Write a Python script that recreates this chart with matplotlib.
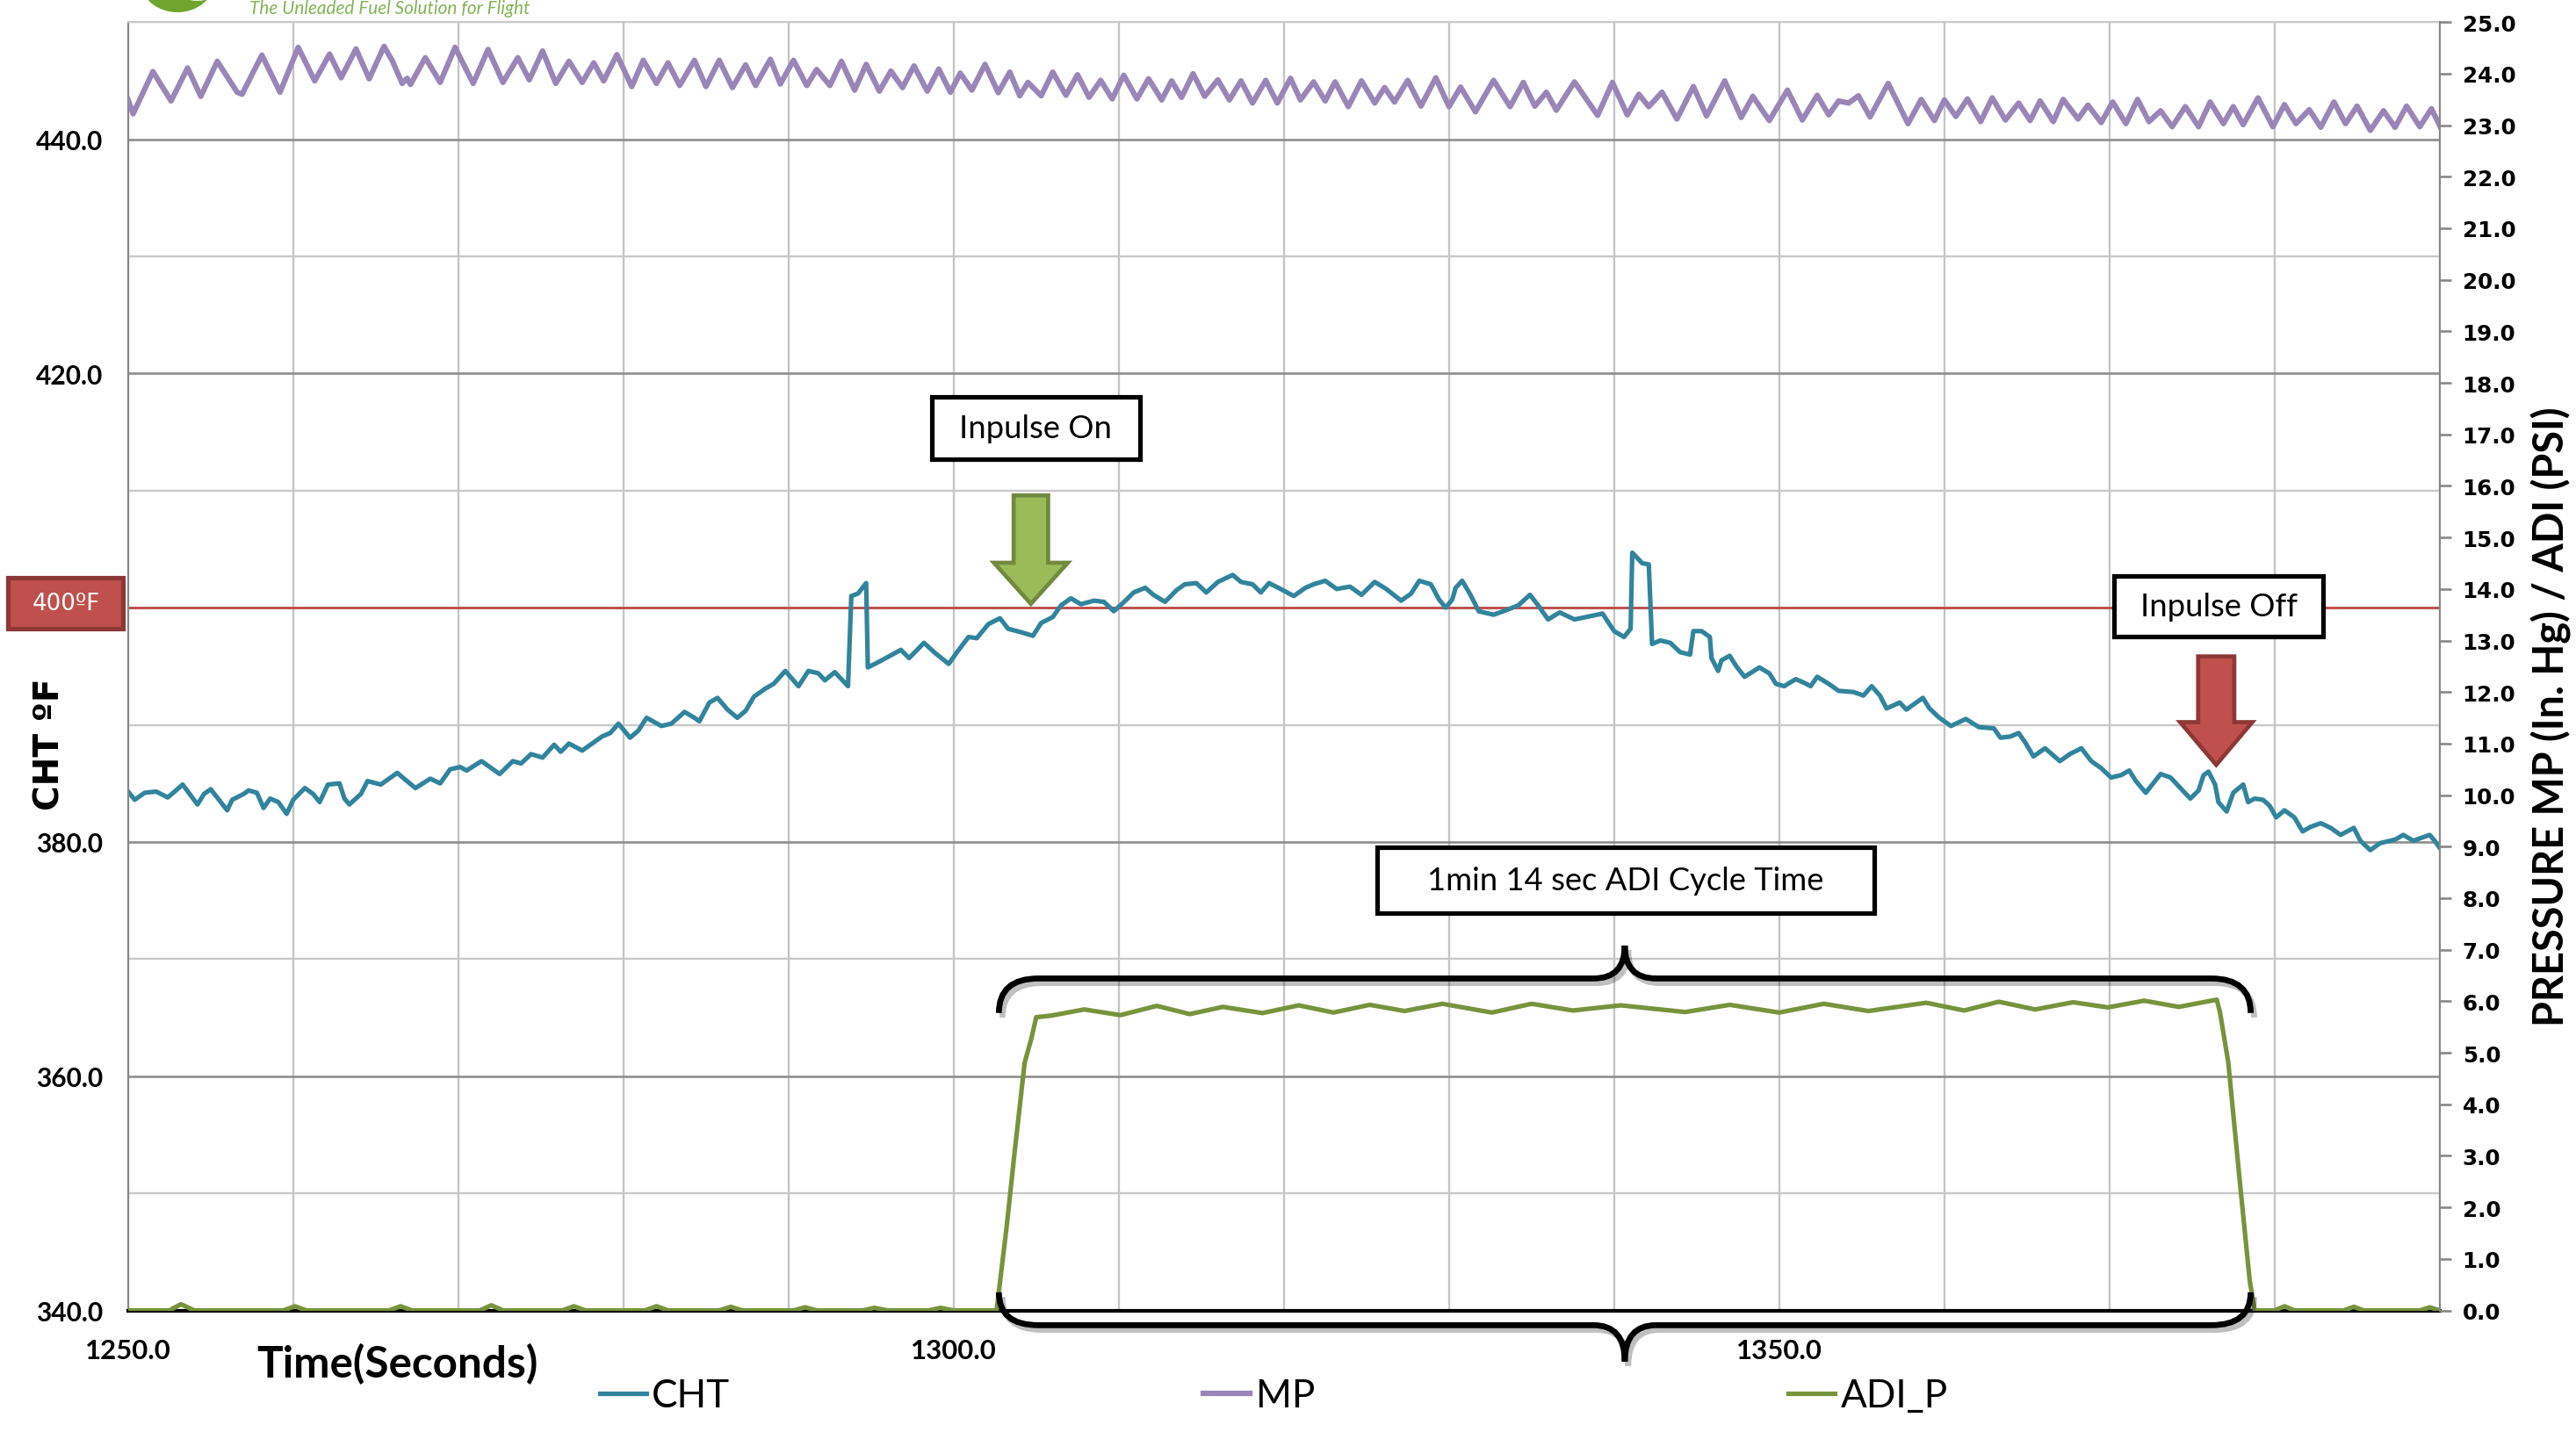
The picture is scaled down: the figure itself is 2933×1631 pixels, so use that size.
import numpy as np
import matplotlib
matplotlib.use('Agg')
import matplotlib.pyplot as plt
from matplotlib.patches import Rectangle, Polygon, PathPatch, Ellipse
from matplotlib.path import Path
import matplotlib.patheffects as pe

plt.rcParams['font.family'] = ['Lato', 'DejaVu Sans']

# ---- data ----
# CHT (deg F), left axis
cht_time = [
    1250.0, 1250.4, 1251.0, 1251.7, 1252.4, 1252.9, 1253.3, 1254.2, 1254.6, 1255.0,
    1255.5, 1256.0, 1256.3, 1257.0, 1257.3, 1257.8, 1258.2, 1258.6, 1259.1, 1259.6,
    1260.0, 1260.7, 1261.2, 1261.6, 1262.1, 1262.8, 1263.1, 1263.4, 1264.1, 1264.5,
    1265.3, 1265.6, 1266.3, 1266.8, 1267.4, 1268.3, 1268.9, 1269.5, 1270.1, 1270.5,
    1271.4, 1271.8, 1272.5, 1273.3, 1273.8, 1274.4, 1275.1, 1275.8, 1276.2, 1276.7,
    1277.5, 1278.2, 1278.7, 1279.2, 1279.7, 1280.4, 1280.9, 1281.4, 1282.3, 1282.9,
    1283.7, 1284.3, 1284.6, 1285.2, 1285.7, 1286.3, 1286.9, 1287.4, 1287.9, 1288.6,
    1289.1, 1289.8, 1290.6, 1291.2, 1291.8, 1292.2, 1292.8, 1293.6, 1293.8, 1294.2,
    1294.7, 1294.8,
    1295.5, 1296.8, 1297.3, 1298.2, 1298.9, 1299.7, 1300.2, 1300.9, 1301.4, 1302.1,
    1302.8, 1303.3, 1304.1, 1304.8, 1305.3, 1306.0, 1306.5, 1307.1, 1307.7, 1308.5,
    1309.1, 1309.7, 1310.4, 1310.9, 1311.6, 1312.1, 1312.8, 1313.5, 1314.0, 1314.7,
    1315.3, 1316.0, 1316.9, 1317.4, 1318.1, 1318.6, 1319.1, 1319.8, 1320.6, 1321.3,
    1321.8, 1322.5, 1323.2, 1324.0, 1324.7, 1325.5, 1326.2, 1327.1, 1327.7, 1328.2,
    1328.9, 1329.4, 1329.8, 1330.2, 1330.4, 1330.8, 1331.3, 1331.8, 1332.7, 1333.3,
    1334.2, 1334.9, 1335.4, 1336.0, 1336.7, 1337.6, 1338.3, 1339.3, 1340.0, 1340.6,
    1341.0, 1341.1, 1341.7, 1342.1, 1342.3, 1342.8,
    1343.4, 1344.0, 1344.6, 1344.8, 1345.3, 1345.8, 1345.9, 1346.3, 1346.5, 1347.0,
    1347.4, 1347.9, 1348.8, 1349.4, 1349.8, 1350.3, 1351.0, 1351.5, 1351.9, 1352.3,
    1353.0, 1353.6, 1354.5, 1355.1, 1355.6, 1356.1, 1356.5, 1357.3, 1357.7, 1358.2,
    1358.7, 1359.1, 1359.7, 1360.4, 1361.3, 1362.1, 1363.0, 1363.4, 1364.0, 1364.5,
    1364.9, 1365.4, 1366.1, 1367.0, 1367.6, 1368.3, 1368.9, 1369.5, 1370.1, 1370.7,
    1371.2, 1371.6, 1372.2, 1373.1, 1373.7, 1374.3, 1374.9, 1375.4, 1375.7, 1376.0,
    1376.4, 1376.6, 1377.1, 1377.5, 1378.1, 1378.4, 1378.8, 1379.3, 1379.7, 1380.1,
    1380.6, 1381.2, 1381.7, 1382.2, 1382.8, 1383.4, 1384.0, 1384.8, 1385.2, 1385.8,
    1386.4, 1387.3, 1387.8, 1388.4, 1389.4, 1389.7, 1390.1,
]
cht_temp = [
    384.3, 383.6, 384.2, 384.3, 383.8, 384.4, 384.9, 383.2, 384.1, 384.5,
    383.6, 382.7, 383.6, 384.1, 384.4, 384.2, 382.9, 383.7, 383.4, 382.4,
    383.6, 384.6, 384.1, 383.4, 384.9, 385.0, 383.7, 383.2, 384.1, 385.2,
    384.9, 385.2, 385.9, 385.3, 384.6, 385.4, 385.0, 386.2, 386.4, 386.1,
    386.9, 386.5, 385.8, 386.9, 386.7, 387.5, 387.2, 388.3, 387.7, 388.4,
    387.8, 388.5, 389.0, 389.3, 390.1, 388.9, 389.5, 390.6, 389.9, 390.1,
    391.1, 390.6, 390.3, 391.9, 392.3, 391.3, 390.6, 391.2, 392.4, 393.1,
    393.5, 394.6, 393.3, 394.6, 394.4, 393.8, 394.5, 393.3, 401.0, 401.2,
    402.1, 394.9,
    395.4, 396.4, 395.7, 397.0, 396.1, 395.2, 396.2, 397.5, 397.4, 398.6,
    399.1, 398.2, 397.9, 397.6, 398.7, 399.2, 400.2, 400.8, 400.3, 400.6,
    400.5, 399.7, 400.6, 401.3, 401.7, 401.1, 400.5, 401.5, 402.0, 402.1,
    401.3, 402.2, 402.8, 402.2, 402.0, 401.3, 402.1, 401.6, 401.0, 401.7,
    402.0, 402.3, 401.6, 401.8, 401.1, 402.2, 401.6, 400.6, 401.2, 402.3,
    402.0, 400.7, 400.0, 400.7, 401.7, 402.3, 401.1, 399.7, 399.4, 399.7,
    400.2, 401.1, 400.2, 399.0, 399.6, 399.0, 399.2, 399.5, 398.0, 397.5,
    398.2, 404.7, 403.8, 403.7, 396.9, 397.2,
    397.0, 396.2, 396.0, 398.0, 398.0, 397.5, 395.7, 394.6, 395.5, 395.9,
    395.0, 394.1, 394.9, 394.4, 393.5, 393.3, 393.9, 393.6, 393.3, 394.1,
    393.5, 392.9, 392.8, 392.5, 393.3, 392.5, 391.4, 391.9, 391.3, 391.8,
    392.3, 391.4, 390.6, 389.9, 390.5, 389.8, 389.7, 388.9, 389.0, 389.3,
    388.5, 387.3, 388.0, 386.9, 387.5, 388.0, 386.9, 386.3, 385.5, 385.7,
    386.1, 385.2, 384.2, 385.8, 385.5, 384.6, 383.7, 384.4, 385.7, 386.0,
    384.9, 383.4, 382.6, 384.2, 384.9, 383.4, 383.7, 383.6, 383.1, 382.1,
    382.7, 382.1, 380.9, 381.3, 381.6, 381.2, 380.6, 381.2, 380.1, 379.3,
    379.9, 380.2, 380.6, 380.1, 380.6, 380.1, 379.3,
]

# MP (in. Hg), right axis - peaks and troughs
mp_time = [
    1250.0, 1250.3, 1251.5, 1252.6, 1253.6, 1254.4, 1255.4, 1255.8, 1256.6, 1256.9,
    1258.1, 1259.2, 1260.3, 1261.3, 1262.2, 1262.9, 1263.8, 1264.6, 1265.5, 1266.0,
    1266.6, 1266.9, 1267.1, 1268.0, 1268.9, 1269.8, 1270.9, 1271.8, 1272.7, 1273.6,
    1274.3, 1275.1, 1275.9, 1276.7, 1277.5, 1278.2, 1278.8, 1279.6, 1280.5, 1281.2,
    1282.0, 1282.7, 1283.4, 1284.3, 1285.0, 1285.8, 1286.6, 1287.4, 1288.0, 1288.9,
    1289.5, 1290.3, 1291.1, 1291.7, 1292.5, 1293.2, 1294.0, 1294.7, 1295.5, 1296.2,
    1296.9, 1297.6, 1298.4, 1299.1, 1299.8, 1300.4, 1301.1, 1301.9, 1302.7, 1303.4,
    1304.0, 1304.5, 1305.3, 1306.0, 1306.8, 1307.5, 1308.2, 1308.9, 1309.6, 1310.3,
    1311.1, 1311.8, 1312.6, 1313.2, 1313.8, 1314.5, 1315.2, 1316.0, 1316.7, 1317.4,
    1318.1, 1318.9, 1319.6, 1320.4, 1321.0, 1321.8, 1322.5, 1323.1, 1323.9, 1324.7,
    1325.5, 1326.1, 1326.7, 1327.5, 1328.3, 1329.2, 1330.0, 1330.7, 1331.6, 1332.7,
    1333.7, 1334.5, 1335.2, 1335.9, 1336.5, 1337.6, 1339.0, 1339.9, 1340.8, 1341.5,
    1342.1, 1342.9, 1343.8, 1344.8, 1345.6, 1346.7, 1347.7, 1348.4, 1349.4, 1350.5,
    1351.4, 1352.3, 1353.0, 1353.6, 1354.2, 1354.8, 1355.5, 1356.6, 1357.8, 1358.6,
    1359.4, 1360.0, 1360.7, 1361.4, 1362.2, 1362.9, 1363.7, 1364.5, 1365.2, 1365.8,
    1366.6, 1367.2, 1368.1, 1368.7, 1369.5, 1370.2, 1371.0, 1371.7, 1372.4, 1373.1,
    1373.8, 1374.6, 1375.4, 1376.1, 1376.9, 1377.5, 1378.1, 1379.0, 1379.9, 1380.6,
    1381.3, 1382.1, 1382.8, 1383.6, 1384.3, 1385.0, 1385.8, 1386.6, 1387.3, 1388.0,
    1388.8, 1389.5, 1390.1,
]
mp_inhg = [
    23.49, 23.22, 24.04, 23.47, 24.11, 23.56, 24.24, 24.04, 23.64, 23.60,
    24.36, 23.64, 24.51, 23.86, 24.38, 23.92, 24.48, 23.90, 24.53, 24.25,
    23.81, 23.91, 23.79, 24.31, 23.83, 24.51, 23.81, 24.47, 23.83, 24.31,
    23.88, 24.44, 23.81, 24.24, 23.83, 24.21, 23.86, 24.37, 23.75, 24.26,
    23.81, 24.21, 23.77, 24.26, 23.75, 24.26, 23.73, 24.17, 23.77, 24.28,
    23.80, 24.26, 23.77, 24.08, 23.77, 24.24, 23.68, 24.18, 23.66, 24.05,
    23.73, 24.15, 23.66, 24.09, 23.64, 24.01, 23.68, 24.18, 23.63, 24.03,
    23.57, 23.83, 23.57, 24.03, 23.58, 23.98, 23.54, 23.87, 23.51, 23.97,
    23.51, 23.90, 23.49, 23.86, 23.54, 24.00, 23.56, 23.88, 23.49, 23.86,
    23.43, 23.87, 23.43, 23.91, 23.49, 23.84, 23.47, 23.84, 23.36, 23.86,
    23.43, 23.73, 23.45, 23.87, 23.37, 23.92, 23.36, 23.74, 23.26, 23.87,
    23.36, 23.83, 23.37, 23.64, 23.29, 23.84, 23.19, 23.83, 23.20, 23.60,
    23.36, 23.64, 23.12, 23.75, 23.18, 23.86, 23.15, 23.56, 23.09, 23.68,
    23.10, 23.58, 23.20, 23.47, 23.43, 23.57, 23.16, 23.81, 23.03, 23.50,
    23.09, 23.49, 23.17, 23.51, 23.07, 23.53, 23.10, 23.43, 23.09, 23.47,
    23.07, 23.50, 23.12, 23.39, 23.05, 23.45, 23.03, 23.50, 23.07, 23.28,
    22.97, 23.36, 22.97, 23.45, 23.03, 23.36, 23.01, 23.53, 22.97, 23.40,
    23.03, 23.30, 22.96, 23.45, 23.03, 23.37, 22.90, 23.28, 22.96, 23.37,
    22.97, 23.32, 22.93,
]

# ADI pressure (PSI), right axis
adi_time = [
    1250.0, 1252.5, 1253.2, 1254.0, 1259.4, 1260.1, 1260.8, 1265.8, 1266.5, 1267.2,
    1271.3, 1272.0, 1272.7, 1276.3, 1277.0, 1277.7, 1281.3, 1282.0, 1282.7, 1285.8,
    1286.5, 1287.2, 1290.3, 1291.0, 1291.7, 1294.5, 1295.2, 1296.0, 1298.5, 1299.2,
    1300.0, 1302.6, 1303.2, 1303.7, 1304.3, 1304.7, 1305.0, 1305.9, 1307.9, 1310.1,
    1312.3, 1314.3, 1316.3, 1318.7, 1320.9, 1323.0, 1325.2, 1327.3, 1329.6, 1332.6,
    1335.0, 1337.5, 1340.4, 1344.3, 1347.0, 1350.0, 1352.7, 1355.4, 1358.9, 1361.2,
    1363.3, 1365.5, 1367.8, 1369.9, 1372.1, 1374.2, 1376.5, 1376.7, 1377.2, 1377.9,
    1378.5, 1378.8, 1380.0, 1380.6, 1381.2, 1384.2, 1384.8, 1385.4, 1388.8, 1389.4,
    1390.0,
]
adi_psi = [
    0.0, 0.0, 0.12, 0.0, 0.0, 0.08, 0.0, 0.0, 0.08, 0.0,
    0.0, 0.10, 0.0, 0.0, 0.08, 0.0, 0.0, 0.08, 0.0, 0.0,
    0.07, 0.0, 0.0, 0.06, 0.0, 0.0, 0.05, 0.0, 0.0, 0.05,
    0.0, 0.0, 1.6, 3.1, 4.81, 5.27, 5.69, 5.72, 5.84, 5.73,
    5.91, 5.75, 5.89, 5.77, 5.92, 5.78, 5.93, 5.81, 5.95, 5.78,
    5.95, 5.82, 5.92, 5.79, 5.93, 5.78, 5.95, 5.81, 5.97, 5.82,
    5.99, 5.84, 5.98, 5.88, 6.01, 5.89, 6.03, 5.78, 4.81, 2.49,
    0.57, 0.0, 0.0, 0.08, 0.0, 0.0, 0.07, 0.0, 0.0, 0.06,
    0.0,
]

series_labels = ['CHT', 'MP', 'ADI_P']
left_ticks = [340, 360, 380, 400, 420, 440]
right_ticks = list(range(0, 26))
x_ticks = [1250, 1300, 1350]
limit_temp = 400

# ---- layout helpers (positions given on a 1568 x 872 grid) ----
W, H = 1568.0, 872.0


def fx(x):
    return x / W


def fy(y):
    return 1 - y / H


fig = plt.figure(figsize=(2933 / 187, 1632 / 187), dpi=187)
ax = fig.add_axes([fx(78), fy(798), fx(1485) - fx(78), fy(14) - fy(798)])
ax2 = ax.twinx()

ax.set_xlim(1250, 1390)
ax.set_ylim(340, 450)
ax2.set_ylim(0, 25)

# grid; the 400 label sits under the red 400ºF tag, so it is left blank
ax.set_axisbelow(True)
ax.set_xticks(x_ticks, labels=['%.1f' % v for v in x_ticks], fontweight='bold', fontsize=12)
ax.set_xticks(np.arange(1260, 1391, 10), minor=True)
ax.set_yticks(left_ticks, labels=['' if v == limit_temp else '%.1f' % v for v in left_ticks],
              fontweight='bold', fontsize=11.5)
ax.set_yticks(np.arange(350, 451, 20), minor=True)
ax.grid(axis='x', which='both', color='#C4C4C4', lw=0.9)
ax.grid(axis='y', which='major', color='#8C8C8C', lw=1.0)
ax.grid(axis='y', which='minor', color='#C8C8C8', lw=0.9)
ax.tick_params(axis='x', which='both', length=0, pad=12)
ax.tick_params(axis='y', which='both', length=0, pad=11)

ax2.set_yticks(right_ticks, labels=['%.1f' % v for v in right_ticks],
               fontfamily='DejaVu Sans', fontweight='bold', fontsize=9.5)
ax2.tick_params(axis='y', length=5, width=1, color='#868686', pad=5)

for s in ['top', 'left', 'bottom']:
    ax2.spines[s].set_visible(False)
ax.spines['right'].set_visible(False)
ax2.spines['right'].set_color('#868686')
ax.spines['left'].set_color('#868686')
ax.spines['top'].set_color('#C8C8C8')
ax.spines['bottom'].set_color('black')
ax.spines['bottom'].set_linewidth(1.6)

# series
ax.axhline(limit_temp, color='#C0504D', lw=1.1, zorder=1.8)
l_cht, = ax.plot(cht_time, cht_temp, color='#31849B', lw=2.0, zorder=2, solid_joinstyle='round')
l_mp, = ax2.plot(mp_time, mp_inhg, color='#9986B6', lw=2.4, solid_joinstyle='round')
l_adi, = ax2.plot(adi_time, adi_psi, color='#77933C', lw=2.0, solid_joinstyle='round')

fig.legend([l_cht, l_mp, l_adi], series_labels, loc='center left',
           bbox_to_anchor=(fx(365), fy(850)), ncol=3, frameon=False, fontsize=17,
           handlelength=1.2, handletextpad=0.15, columnspacing=12.2,
           borderpad=0, borderaxespad=0)

# axis titles
fig.text(fx(242), fy(830), 'Time(Seconds)', ha='center', va='center',
         fontsize=19, fontweight='bold')
fig.text(fx(30), fy(453), 'CHT ºF', ha='center', va='center', rotation=90,
         fontsize=15, fontweight='bold', family=['DejaVu Sans'])
fig.text(fx(1553), fy(436), 'PRESSURE MP (In. Hg) / ADI (PSI)', ha='center', va='center',
         rotation=90, fontsize=18, fontweight='bold')

# logo remnant at the top
fig.add_artist(Ellipse((fx(108), fy(-10)), 44 / W, 36 / H, transform=fig.transFigure,
                       facecolor='#6FA52C', edgecolor='none'))
fig.add_artist(Ellipse((fx(120), fy(-17)), 44 / W, 36 / H, transform=fig.transFigure,
                       facecolor='white', edgecolor='none'))
fig.text(fx(152), fy(8.5), 'The Unleaded Fuel Solution for Flight', ha='left', va='baseline',
         fontsize=8, style='italic', color='#86B25A')


def text_box(x0, y0, x1, y1, label, face='white', edge='black', tcolor='black', size=14,
             lw=2.0, family=None):
    fig.add_artist(Rectangle((fx(x0), fy(y1)), fx(x1) - fx(x0), fy(y0) - fy(y1),
                             transform=fig.transFigure, facecolor=face, edgecolor=edge,
                             lw=lw, zorder=5))
    kw = {} if family is None else {'family': family}
    fig.text(fx((x0 + x1) / 2), fy((y0 + y1) / 2), label, ha='center', va='center',
             fontsize=size, color=tcolor, zorder=6, **kw)


def down_arrow(xl, xr, hl, hr, ytop, yneck, ytip, face, edge):
    xc = (hl + hr) / 2
    pts = [(xl, ytop), (xr, ytop), (xr, yneck), (hr, yneck), (xc, ytip), (hl, yneck), (xl, yneck)]
    fig.add_artist(Polygon([(fx(x), fy(y)) for x, y in pts], closed=True,
                           transform=fig.transFigure, facecolor=face, edgecolor=edge,
                           lw=1.8, joinstyle='miter', zorder=5))


def brace(xl, xr, yend, yline, ytip, r=24):
    xc = (xl + xr) / 2
    verts = [(xl, yend), (xl, yline), (xl + r, yline),
             (xc - 19, yline), (xc, yline), (xc, ytip),
             (xc, yline), (xc + 19, yline),
             (xr - r, yline), (xr, yline), (xr, yend)]
    codes = [Path.MOVETO, Path.CURVE3, Path.CURVE3,
             Path.LINETO, Path.CURVE3, Path.CURVE3,
             Path.CURVE3, Path.CURVE3,
             Path.LINETO, Path.CURVE3, Path.CURVE3]
    p = Path([(fx(x), fy(y)) for x, y in verts], codes)
    patch = PathPatch(p, transform=fig.transFigure, facecolor='none', edgecolor='black',
                      lw=2.6, capstyle='butt', zorder=5)
    patch.set_path_effects([pe.SimpleLineShadow(offset=(1.5, -2), alpha=0.25), pe.Normal()])
    fig.add_artist(patch)


text_box(5, 352, 75, 383, '400ºF', face='#C0504D', edge='#8C3836', tcolor='white', size=10,
         family=['DejaVu Sans'])
text_box(567, 242, 694, 280, 'Inpulse On')
text_box(1287, 351, 1414, 388, 'Inpulse Off')
text_box(838, 516, 1141, 556, '1min 14 sec ADI Cycle Time')

down_arrow(617, 638, 605, 650, 302, 343, 368, '#9BBB59', '#71893F')
down_arrow(1338, 1360, 1327, 1371, 400, 440, 466, '#C0504D', '#8C3836')

brace(608, 1370, 617, 596, 576)
brace(608, 1370, 787, 807, 829)

fig.savefig('out.png', dpi=187)
